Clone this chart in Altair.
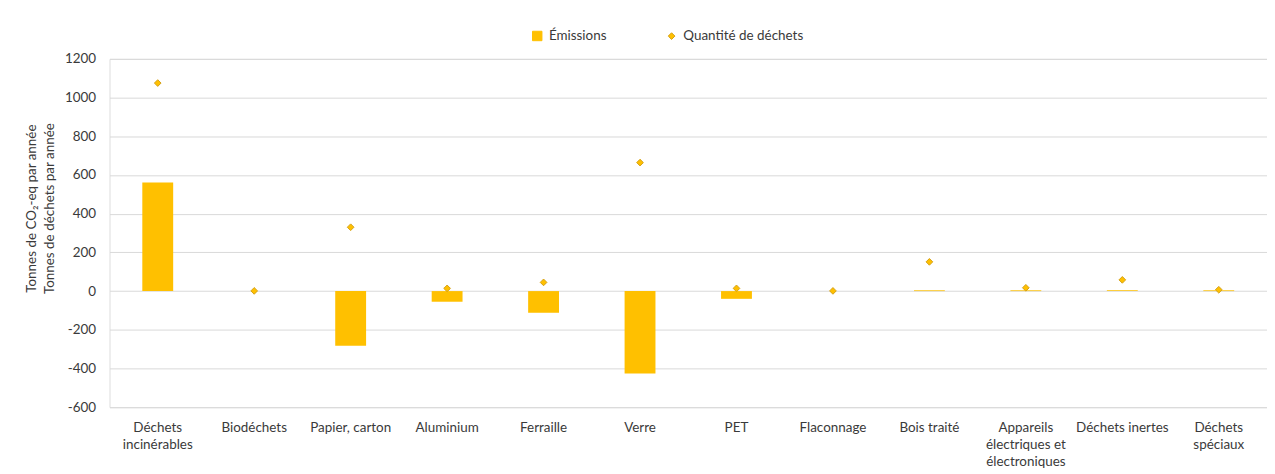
import altair as alt
import pandas as pd

# Category tick labels ("|" marks a line break in the axis label)
categories = [
    "Déchets|incinérables", "Biodéchets", "Papier, carton", "Aluminium",
    "Ferraille", "Verre", "PET", "Flaconnage", "Bois traité",
    "Appareils|électriques et|électroniques", "Déchets inertes", "Déchets|spéciaux",
]
# Tonnes de CO2-eq par année
emissions = [561, 0, -283, -55, -112, -426, -40, 0, 4, 4, 4, 4]
# Tonnes de déchets par année
quantite = [1075, 1, 330, 14, 45, 664, 14, 1, 151, 17, 58, 7]
series_names = ["Émissions", "Quantité de déchets"]
y_ticks = [-600, -400, -200, 0, 200, 400, 600, 800, 1000, 1200]

df = pd.DataFrame({
    "cat": categories * 2,
    "series": [series_names[0]] * len(categories) + [series_names[1]] * len(categories),
    "value": emissions + quantite,
})

FONT = "Lato"
TXT = "#3a3a3a"
GOLD = "#FFC000"
EDGE = "#D4A017"

x = alt.X(
    "cat:N", sort=categories,
    scale=alt.Scale(paddingInner=0.68, paddingOuter=0.34),
    axis=alt.Axis(
        title=None, labelAngle=0, labelExpr="split(datum.label, '|')",
        domain=False, ticks=False, grid=False, labelPadding=13,
        labelFontSize=13.5, labelLineHeight=17.5, labelColor=TXT,
        labelFont=FONT, labelLimit=0,
    ),
)
y = alt.Y(
    "value:Q",
    scale=alt.Scale(domain=[-600, 1200], nice=False, zero=False),
    axis=alt.Axis(
        title=["Tonnes de CO₂-eq par année", "Tonnes de déchets par année"],
        values=y_ticks, labelExpr="'' + datum.value",
        domain=False, ticks=False, grid=True, gridColor="#D9D9D9", gridWidth=1,
        labelPadding=14, labelFontSize=13.5, labelColor=TXT, labelFont=FONT,
        titleFont=FONT, titleFontSize=13.5, titleFontWeight="normal", titleColor=TXT,
        titleLineHeight=18, titlePadding=8, titleY=150,
    ),
)


def leg():
    return alt.Legend(
        title=None, orient="none", direction="horizontal",
        legendX=423, legendY=-30, columnPadding=58, padding=0,
        labelFont=FONT, labelFontSize=13.5, labelColor=TXT,
        labelOffset=5, symbolStrokeWidth=1, symbolOpacity=1,
    )


color = alt.Color("series:N", scale=alt.Scale(domain=series_names, range=[GOLD, GOLD]), legend=leg())
shape = alt.Shape("series:N", scale=alt.Scale(domain=series_names, range=["square", "diamond"]), legend=leg())
stroke = alt.Stroke("series:N", scale=alt.Scale(domain=series_names, range=[GOLD, EDGE]), legend=leg())
size = alt.Size("series:N", scale=alt.Scale(domain=series_names, range=[90, 45]), legend=leg())

base = alt.Chart(df)
bars = base.transform_filter(alt.datum.series == series_names[0]).mark_bar(color=GOLD).encode(
    x=x, y=y, color=color
)
points = base.transform_filter(alt.datum.series == series_names[1]).mark_point(
    filled=True, strokeWidth=1, opacity=1
).encode(x=x, y=y, color=color, shape=shape, stroke=stroke, size=size)

chart = alt.layer(bars, points).properties(
    width=1163, height=350,
    autosize=alt.AutoSizeParams(type="none"),
    padding={"left": 102, "top": 50, "right": 0, "bottom": 64},
).configure_view(stroke=None).configure(font=FONT)

chart.save("out.html", embed_options={"renderer": "svg", "actions": False})
